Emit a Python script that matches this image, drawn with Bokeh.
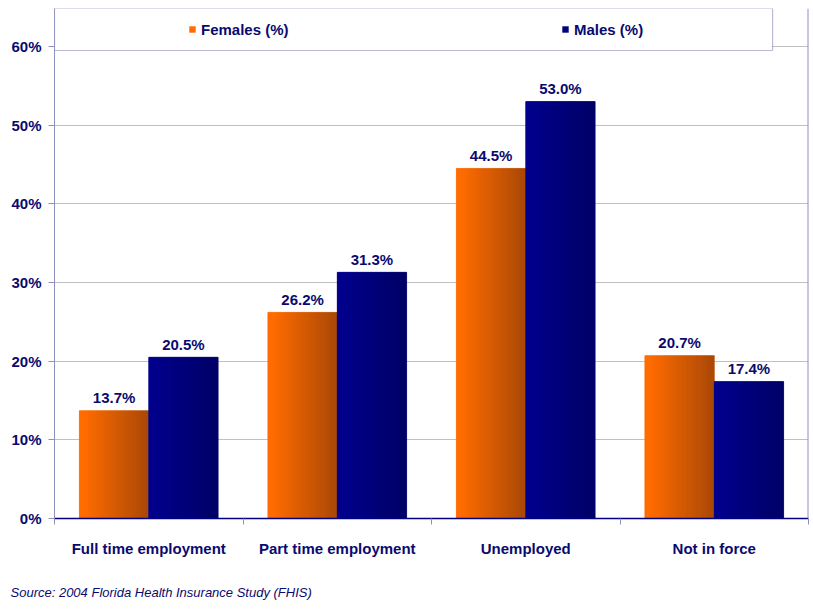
import numpy as np
from bokeh.plotting import figure
from bokeh.models import (ColumnDataSource, Range1d, FixedTicker, Legend, LegendItem,
                          Span, BoxAnnotation, PrintfTickFormatter, Title)
from bokeh.core.properties import value
from bokeh.embed import file_html
from bokeh.resources import INLINE

# ---------------- data ----------------
categories = ["Full time employment", "Part time employment", "Unemployed", "Not in force"]
females = [13.7, 26.2, 44.5, 20.7]
males = [20.5, 31.3, 53.0, 17.4]
y_ticks = [0, 10, 20, 30, 40, 50, 60]
series_names = ["Females (%)", "Males (%)"]
source_note = "Source:  2004 Florida Health Insurance Study (FHIS)"

# ---------------- style ----------------
NAVY = "#000080"
TEXT = "#0A0A6E"
FONT = "Liberation Sans"
F_GRAD = ("#FF6C00", "#A84808")
M_GRAD = ("#00008C", "#000066")
GRID = "#C0C0C0"
SPINE = "#9090C0"

W, H = 811, 607
BAR_W = 0.368
Y_MAX = 60
Y_TOP = Y_MAX * 510 / 472
N_STRIPS = 24


def hex_to_rgb(h):
    h = h.lstrip("#")
    return np.array([int(h[i:i + 2], 16) for i in (0, 2, 4)], dtype=float)


def lerp(c0, c1, t):
    a, b = hex_to_rgb(c0), hex_to_rgb(c1)
    c = a + (b - a) * t
    return "#%02x%02x%02x" % tuple(int(round(v)) for v in c)


p = figure(width=W, height=H, output_backend="svg", toolbar_location=None,
           x_range=Range1d(0, len(categories)), y_range=Range1d(0, Y_TOP),
           min_border_left=54, min_border_right=3, min_border_top=8, min_border_bottom=89,
           background_fill_color="white", border_fill_color="white")
p.outline_line_color = None

xc = np.arange(len(categories)) + 0.5
sw = BAR_W / N_STRIPS


def strips(values, left_offset, grad):
    xs, tops, cols = [], [], []
    for i, v in enumerate(values):
        for k in range(N_STRIPS):
            t = (k + 0.5) / N_STRIPS
            xs.append(xc[i] + left_offset + (k + 0.5) * sw)
            tops.append(v)
            cols.append(lerp(grad[0], grad[1], max(0.0, (t - 0.08) / 0.92)))
    return ColumnDataSource(dict(x=xs, top=tops, c=cols))


rf = p.vbar(x=xc - BAR_W / 2, top=females, width=BAR_W, fill_color=F_GRAD[0], line_color=None)
p.vbar(x="x", top="top", width=sw, fill_color="c", line_color="c", line_width=0.6,
       source=strips(females, -BAR_W, F_GRAD))
rm = p.vbar(x=xc + BAR_W / 2, top=males, width=BAR_W, fill_color=NAVY, line_color=None)
p.vbar(x="x", top="top", width=sw, fill_color="c", line_color="c", line_width=0.6,
       source=strips(males, 0.0, M_GRAD))

# value labels
lab = ColumnDataSource(dict(
    x=list(xc - BAR_W / 2) + list(xc + BAR_W / 2),
    y=females + males,
    t=["%.1f%%" % v for v in females + males],
))
p.text(x="x", y="y", text="t", source=lab, text_align="center", text_baseline="alphabetic",
       y_offset=-13, text_font=value(FONT), text_font_style="bold", text_font_size="15px",
       text_color=TEXT)

# grid
p.xgrid.visible = False
p.ygrid.ticker = FixedTicker(ticks=y_ticks)
p.ygrid.grid_line_color = GRID
p.ygrid.grid_line_width = 1

# y axis
ya = p.yaxis[0]
ya.ticker = FixedTicker(ticks=y_ticks)
ya.formatter = PrintfTickFormatter(format="%d%%")
ya.axis_line_color = SPINE
ya.major_tick_line_color = SPINE
ya.major_tick_out = 6
ya.major_tick_in = 0
ya.minor_tick_line_color = None
ya.major_label_standoff = 7
ya.major_label_text_font = FONT
ya.major_label_text_font_style = "bold"
ya.major_label_text_font_size = "15px"
ya.major_label_text_color = TEXT

# x axis
xa = p.xaxis[0]
xa.ticker = FixedTicker(ticks=list(xc), minor_ticks=list(range(len(categories) + 1)))
xa.major_label_overrides = {float(x): c for x, c in zip(xc, categories)}
xa.axis_line_color = NAVY
xa.axis_line_width = 1.5
xa.major_tick_line_color = None
xa.major_tick_out = 0
xa.major_tick_in = 0
xa.minor_tick_line_color = SPINE
xa.minor_tick_out = 6
xa.minor_tick_in = 0
xa.major_label_standoff = 15
xa.major_label_text_font = FONT
xa.major_label_text_font_style = "bold"
xa.major_label_text_font_size = "15px"
xa.major_label_text_color = TEXT

# right border
p.add_layout(Span(location=len(categories), dimension="height", line_color=SPINE, line_width=2))

# legend box
p.add_layout(BoxAnnotation(left=0, right=len(categories) * 720 / 756,
                           bottom=Y_MAX * (518 - 50) / 472, top=Y_TOP,
                           fill_color="white", fill_alpha=1.0,
                           line_color="#1A1A70", line_width=1.2))

legend = Legend(items=[LegendItem(label=series_names[0], renderers=[rf]),
                       LegendItem(label=series_names[1], renderers=[rm])],
                orientation="horizontal", location=(134, 479), padding=0, margin=0,
                spacing=260, glyph_width=8, glyph_height=8, label_standoff=5,
                label_width=100, label_height=20,
                border_line_color=None, background_fill_alpha=0.0,
                label_text_font=FONT, label_text_font_style="bold",
                label_text_font_size="15px", label_text_color=TEXT)
p.add_layout(legend)

# spacer + source note
p.add_layout(Title(text="\u00a0", text_font_size="14px", standoff=0), "below")
p.add_layout(Title(text=source_note, align="left", offset=-44, standoff=10,
                   text_font=FONT, text_font_style="italic", text_font_size="13px",
                   text_color=TEXT), "below")

open("out.html", "w").write(file_html(p, INLINE))
